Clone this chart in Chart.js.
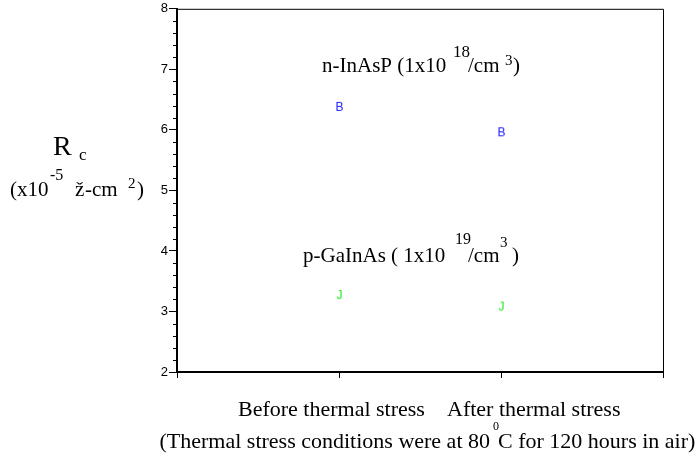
<!DOCTYPE html>
<html>
<head>
<meta charset="utf-8">
<script src="https://cdn.jsdelivr.net/npm/chart.js@4/dist/chart.umd.min.js"></script>
<style>
  html, body { margin: 0; padding: 0; background: #fff; }
  #wrap { width: 698px; height: 462px; position: relative; }
</style>
</head>
<body>
<div id="wrap"><canvas id="c" width="698" height="462"></canvas></div>
<script>
// ---- data ----
const categories = ['Before thermal stress', 'After thermal stress'];
const categoryX = [1, 2];
const nInAsP = [6.38, 5.96];
const pGaInAs = [3.27, 3.08];
const yMin = 2, yMax = 8, yStep = 1, yMinorStep = 0.2;
const xMin = 0, xMax = 3;

const SERIF = '"Liberation Serif", "Times New Roman", serif';
const SANS = '"Liberation Sans", Arial, sans-serif';

function letterMarker(ch, color) {
  const c = document.createElement('canvas');
  c.width = 14; c.height = 14;
  const g = c.getContext('2d');
  g.fillStyle = color;
  g.font = '12px ' + SANS;
  g.textAlign = 'center';
  g.textBaseline = 'middle';
  g.fillText(ch, 7.5, 7.5);
  return c;
}

const markerB = letterMarker('B', '#2020ff');
const markerJ = letterMarker('J', '#22ee22');

const decor = {
  id: 'decor',
  afterDraw(chart) {
    const ctx = chart.ctx;
    const a = chart.chartArea;
    const ys = chart.scales.y;
    ctx.save();
    // frame top/right
    ctx.strokeStyle = '#000';
    ctx.lineWidth = 1;
    ctx.beginPath();
    ctx.moveTo(a.left, a.top + 0.5);
    ctx.lineTo(a.right + 0.5, a.top + 0.5);
    ctx.lineTo(a.right + 0.5, a.bottom);
    ctx.stroke();
    // minor ticks on y
    ctx.beginPath();
    for (let v = yMin; v <= yMax + 1e-9; v += yMinorStep) {
      const r = Math.round(v * 10) / 10;
      if (Math.abs(r - Math.round(r)) < 1e-6) continue;
      const py = Math.round(ys.getPixelForValue(r)) + 0.5;
      ctx.moveTo(a.left - 4, py);
      ctx.lineTo(a.left, py);
    }
    ctx.stroke();

    ctx.fillStyle = '#000';
    ctx.textBaseline = 'alphabetic';
    ctx.textAlign = 'left';
    const t = (s, x, y, size) => { ctx.font = size + 'px ' + SERIF; ctx.fillText(s, x, y); };

    // series labels
    t('n-InAsP (1x10', 322, 72, 21);
    t('18', 453, 57, 17);
    t('/cm', 468, 72, 21);
    t('3', 505, 65, 15);
    t(')', 513, 72, 21);

    t('p-GaInAs ( 1x10', 303, 262, 21);
    t('19', 455, 244, 16);
    t('/cm', 468, 262, 21);
    t('3', 500, 247, 15);
    t(')', 512, 262, 21);

    // y title
    t('R', 53, 155, 28);
    t('c', 79, 160, 17);
    t('(x10', 10, 196, 21);
    t('-5', 50, 180, 16);
    t('\u017e', 75, 196, 21);
    t('-cm', 85, 196, 21);
    t('2', 128, 188, 15);
    t(')', 137, 196, 21);

    // category labels
    t(categories[0], 238, 416, 22);
    t(categories[1], 447, 416, 22);

    // footnote
    ctx.textAlign = 'right';
    t('(Thermal stress conditions were at 80', 490, 448, 22);
    ctx.textAlign = 'left';
    t('0', 493, 430, 12);
    t('C for 120 hours in air)', 498, 448, 22);
    ctx.restore();
  }
};

new Chart(document.getElementById('c'), {
  type: 'scatter',
  data: {
    datasets: [
      {
        label: 'n-InAsP',
        data: categoryX.map((x, i) => ({ x, y: nInAsP[i] })),
        pointStyle: markerB,
        pointRadius: 7
      },
      {
        label: 'p-GaInAs',
        data: categoryX.map((x, i) => ({ x, y: pGaInAs[i] })),
        pointStyle: markerJ,
        pointRadius: 7
      }
    ]
  },
  options: {
    responsive: false,
    animation: false,
    devicePixelRatio: 1,
    layout: { padding: { top: 8, right: 35, left: 0, bottom: 0 } },
    plugins: { legend: { display: false }, tooltip: { enabled: false }, title: { display: false } },
    scales: {
      x: {
        type: 'linear', min: xMin, max: xMax,
        afterFit: s => { s.height = 90; },
        ticks: { stepSize: 1, callback: () => '', padding: 0 },
        grid: { drawOnChartArea: false, drawTicks: true, tickLength: 6, color: '#000', lineWidth: 1 },
        border: { display: true, color: '#000', width: 2 }
      },
      y: {
        type: 'linear', min: yMin, max: yMax,
        afterFit: s => { s.width = 177; },
        ticks: { stepSize: yStep, color: '#000', font: { family: SANS, size: 13 }, padding: 1 },
        grid: { drawOnChartArea: false, drawTicks: true, tickLength: 8, color: '#000', lineWidth: 1 },
        border: { display: true, color: '#000', width: 2 }
      }
    }
  },
  plugins: [decor]
});
</script>
</body>
</html>
